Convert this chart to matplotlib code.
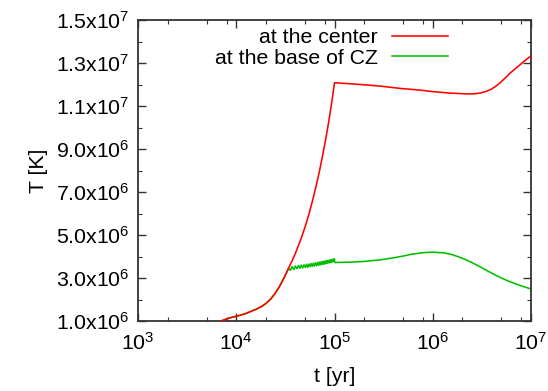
import math
import matplotlib
matplotlib.use("Agg")
import matplotlib.pyplot as plt
from matplotlib.ticker import FixedLocator, NullFormatter, FuncFormatter

plt.rcParams['font.family'] = ['Liberation Sans', 'DejaVu Sans']
plt.rcParams['mathtext.fontset'] = 'custom'
plt.rcParams['mathtext.rm'] = 'Liberation Sans'
plt.rcParams['mathtext.it'] = 'Liberation Sans'
plt.rcParams['mathtext.bf'] = 'Liberation Sans'

# ---- data ----
# shared early evolution (both curves coincide), t in yr, T in units of 1e6 K
t_early = [7000, 8000, 9000, 10000, 11000, 12000, 13000, 14000, 16000, 18000,
           20000, 22500, 25000, 27500, 30000, 32000, 34000]
T_early = [1.00, 1.10, 1.17, 1.22, 1.27, 1.32, 1.38, 1.44, 1.55, 1.67,
           1.81, 2.03, 2.30, 2.60, 2.93, 3.18, 3.45]

# center temperature after the split
t_center = [34000, 37000, 40000, 45000, 50000, 55000, 60000, 65000, 70000,
            75000, 80000, 85000, 90000, 95000, 100000,
            150000, 210000, 300000, 460000, 740000, 1000000, 1500000,
            2300000, 2700000, 3100000, 3500000, 3900000, 4300000, 4800000,
            5400000, 6100000, 6900000, 7700000, 8700000, 10000000]
T_center = [3.45, 3.80, 4.15, 4.75, 5.35, 5.98, 6.63, 7.28, 7.93,
            8.60, 9.27, 9.95, 10.65, 11.35, 12.08,
            12.03, 11.98, 11.92, 11.82, 11.74, 11.67, 11.60,
            11.56, 11.57, 11.61, 11.68, 11.77, 11.89, 12.06,
            12.28, 12.52, 12.73, 12.91, 13.12, 13.33]

# base of convective zone after the split (noisy part, then smooth)
t_cz_noisy = [34000, 35500, 37000, 38500, 40000, 41500, 43000, 44500, 46000,
              47500, 49000, 50500, 52000, 53500, 55000, 56500, 58000, 59500,
              61000, 62500, 64000, 65500, 67000, 68500, 70000, 71500, 73000,
              74500, 76000, 77500, 79000, 80500, 82000, 83500, 85000, 86500,
              88000, 89500, 91000, 92500, 94000, 95500, 97000, 98500, 99800]
T_cz_noisy = [3.45, 3.36, 3.53, 3.40, 3.56, 3.43, 3.58, 3.45, 3.60,
              3.47, 3.61, 3.49, 3.64, 3.50, 3.65, 3.53, 3.67, 3.54,
              3.69, 3.56, 3.70, 3.58, 3.72, 3.59, 3.74, 3.61, 3.75,
              3.63, 3.77, 3.64, 3.78, 3.66, 3.80, 3.68, 3.81, 3.70,
              3.83, 3.71, 3.84, 3.73, 3.86, 3.75, 3.88, 3.78, 3.89]
t_cz_late = [100500, 150000, 200000, 300000, 400000, 500000, 600000, 800000,
             1000000, 1300000, 1600000, 2000000, 2500000, 3000000, 4000000,
             5000000, 6000000, 8000000, 10000000]
T_cz_late = [3.72, 3.74, 3.77, 3.85, 3.94, 4.02, 4.10, 4.18,
             4.20, 4.17, 4.08, 3.92, 3.72, 3.53, 3.22, 3.00, 2.84, 2.63, 2.49]

y_ticks = [1.0, 3.0, 5.0, 7.0, 9.0, 11.0, 13.0, 15.0]
y_minor = [2.0, 4.0, 6.0, 8.0, 10.0, 12.0, 14.0]
x_ticks = [1e3, 1e4, 1e5, 1e6, 1e7]
x_minor_mult = [2, 5, 8]

label_center = "at the center"
label_cz = "at the base of CZ"

# ---- figure ----
fig = plt.figure(figsize=(5.48, 3.91), dpi=100)
ax = fig.add_axes([138/548, 1 - 321/391, (531-138)/548, (321-20)/391])

scale = 1e6
t_c = t_early + t_center[1:]
T_c = [v * scale for v in T_early + T_center[1:]]
t_z = t_early + t_cz_noisy[1:] + t_cz_late
T_z = [v * scale for v in T_early + T_cz_noisy[1:] + T_cz_late]

ax.plot(t_c, T_c, color='#ff0000', lw=1.15, label=label_center, zorder=3)
ax.plot(t_z, T_z, color='#00c000', lw=1.15, label=label_cz, zorder=2)

ax.set_xscale('log')
ax.set_xlim(1e3, 1e7)
ax.set_ylim(1.0e6, 1.5e7)

fs = 15.3
ax.xaxis.set_major_locator(FixedLocator(x_ticks))
minors = [m * d for d in x_ticks[:-1] for m in x_minor_mult]
ax.xaxis.set_minor_locator(FixedLocator(minors))
ax.xaxis.set_minor_formatter(NullFormatter())
ax.xaxis.set_major_formatter(FuncFormatter(
    lambda v, p: r'$\mathregular{10^{%d}}$' % round(math.log10(v))))

ax.yaxis.set_major_locator(FixedLocator([v * scale for v in y_ticks]))
ax.yaxis.set_minor_locator(FixedLocator([v * scale for v in y_minor]))


def yfmt(v, p):
    e = int(math.floor(math.log10(v) + 1e-9))
    m = v / 10**e
    return r'$\mathregular{%.1fx10^{%d}}$' % (m, e)


ax.yaxis.set_major_formatter(FuncFormatter(yfmt))

ax.tick_params(which='both', direction='in', top=True, right=True,
               labelsize=fs, color='#333333')
ax.tick_params(which='major', length=6, width=1.0)
ax.tick_params(axis='x', which='major', pad=8)
ax.tick_params(axis='y', which='major', pad=6)
ax.tick_params(which='minor', length=3, width=0.8)
for s in ax.spines.values():
    s.set_linewidth(1.3)
    s.set_color('#333333')

ax.set_xlabel('t [yr]', fontsize=fs, labelpad=9)
ax.set_ylabel('T [K]', fontsize=fs, labelpad=6)

leg = ax.legend(loc='upper right', bbox_to_anchor=((448-138)/393, 1 - (28-20)/301),
                markerfirst=False, frameon=False, fontsize=fs,
                handlelength=2.65, handletextpad=0.65, labelspacing=0.08,
                borderpad=0, borderaxespad=0)
for t in leg.get_texts():
    t.set_ha('right')

fig.savefig('out.png', dpi=100)
